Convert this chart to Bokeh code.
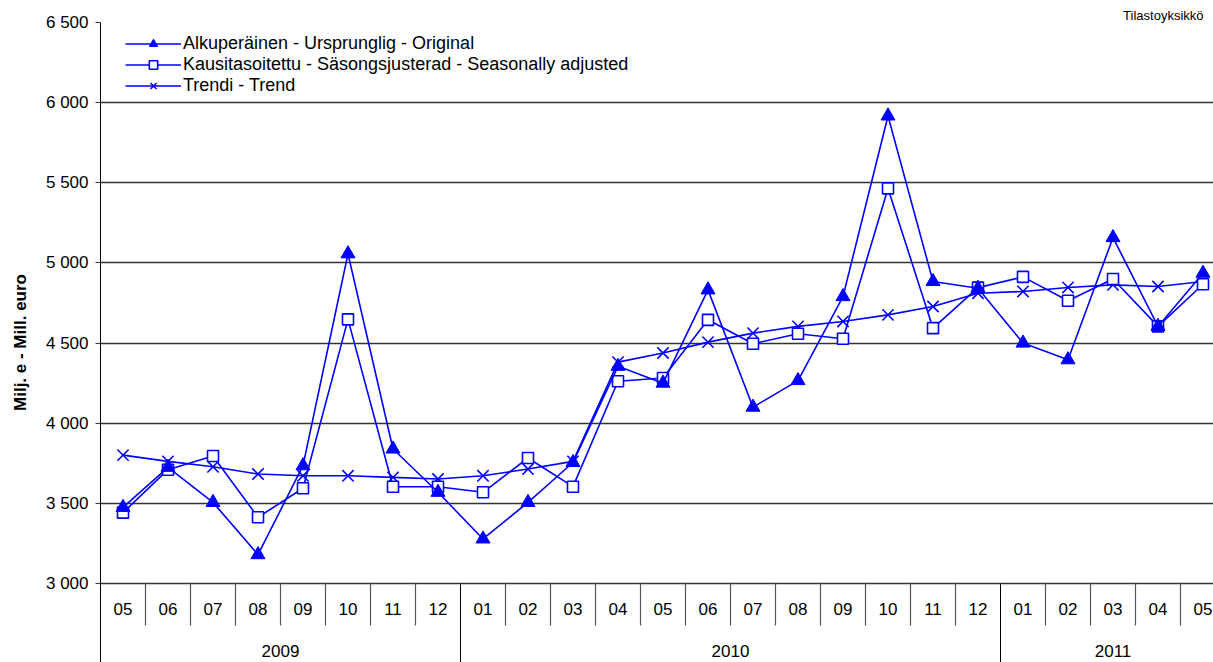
from bokeh.plotting import figure
from bokeh.models import Range1d, FixedTicker, Legend, LegendItem, ColumnDataSource
from bokeh.core.properties import value
from bokeh.embed import file_html
from bokeh.resources import INLINE

# ---- data ----
months = ["05", "06", "07", "08", "09", "10", "11", "12",
          "01", "02", "03", "04", "05", "06", "07", "08", "09", "10", "11", "12",
          "01", "02", "03", "04", "05"]
years = ["2009", "2010", "2011"]
year_month_counts = [8, 12, 5]

original = [3475, 3725, 3506, 3180, 3735, 5057, 3839, 3569,
            3278, 3506, 3755, 4355, 4250, 4832, 4100, 4266, 4790, 5917, 4884, 4842,
            4500, 4396, 5158, 4604, 4936]
seas_adj = [3442, 3710, 3795, 3413, 3594, 4648, 3604, 3604,
            3569, 3783, 3604, 4262, 4282, 4645, 4496, 4558, 4527, 5465, 4593, 4846,
            4913, 4764, 4900, 4604, 4867]
trend = [3801, 3762, 3728, 3683, 3672, 3672, 3662, 3652,
         3672, 3714, 3762, 4381, 4438, 4506, 4562, 4604, 4635, 4676, 4728, 4811,
         4822, 4847, 4863, 4853, 4884]

y_ticks = [3000, 3500, 4000, 4500, 5000, 5500, 6000, 6500]
y_tick_labels = ["3 000", "3 500", "4 000", "4 500", "5 000", "5 500", "6 000", "6 500"]

legend_labels = ["Alkuperäinen - Ursprunglig - Original",
                 "Kausitasoitettu - Säsongsjusterad - Seasonally adjusted",
                 "Trendi - Trend"]
y_title = "Milj. e - Mill. euro"
corner_text = "Tilastoyksikkö"

# ---- layout constants ----
W, H = 1213, 662
LEFT, TOP = 100, 22
cat_px = 45.0
frame_w = W - LEFT
frame_h = H - TOP
y_top = 6500
px_per_unit = (583 - 22) / 3500.0
y_bottom = y_top - frame_h / px_per_unit

def y_at(page_y):
    return 3000 - (page_y - 583) / px_per_unit

BLUE = "#0000FF"
FONT = "Liberation Sans"

p = figure(width=W, height=H, output_backend="svg", toolbar_location=None,
           x_range=Range1d(0, frame_w / cat_px), y_range=Range1d(y_bottom, y_top),
           min_border_left=LEFT, min_border_top=TOP, min_border_right=0, min_border_bottom=0,
           x_axis_type=None)
p.outline_line_color = None
p.background_fill_color = "white"
p.border_fill_color = "white"
p.xgrid.visible = False

# corner text as a right-aligned title
p.title.text = corner_text
p.title.align = "right"
p.title.text_font = FONT
p.title.text_font_size = "13px"
p.title.text_font_style = "normal"
p.title.text_color = "black"
p.title.offset = 10
p.title.standoff = 0

# y axis
yt = FixedTicker(ticks=y_ticks, minor_ticks=[])
p.yaxis.ticker = yt
p.yaxis.major_label_overrides = {t: l for t, l in zip(y_ticks, y_tick_labels)}
p.yaxis.major_label_text_font = FONT
p.yaxis.major_label_text_font_size = "17px"
p.yaxis.major_label_text_color = "black"
p.yaxis.major_tick_in = 0
p.yaxis.major_tick_out = 5
p.yaxis.major_tick_line_color = "#333333"
p.yaxis.minor_tick_line_color = None
p.yaxis.axis_line_color = "black"
p.yaxis.major_label_standoff = 7
p.yaxis.axis_label = y_title
p.yaxis.axis_label_text_font = FONT
p.yaxis.axis_label_text_font_style = "bold"
p.yaxis.axis_label_text_font_size = "17px"
p.yaxis.axis_label_text_color = "black"
p.yaxis.axis_label_standoff = 13
p.ygrid.ticker = yt
p.ygrid.grid_line_color = "#333333"
p.ygrid.grid_line_width = 1.3

# category separators & labels (below the 3000 line)
n = len(months)
bounds = list(range(1, n + 1))
year_bounds = []
acc = 0
for c in year_month_counts[:-1]:
    acc += c
    year_bounds.append(acc)
month_bounds = [b for b in bounds if b not in year_bounds]
p.segment(x0=month_bounds, x1=month_bounds, y0=[3000] * len(month_bounds),
          y1=[y_at(625)] * len(month_bounds), line_color="#555555", line_width=1.2)
p.segment(x0=year_bounds, x1=year_bounds, y0=[3000] * len(year_bounds),
          y1=[y_bottom] * len(year_bounds), line_color="black", line_width=1)

xc = [i + 0.5 for i in range(n)]
p.text(x=xc, y=[y_at(608)] * n, text=months, text_align="center", text_baseline="middle",
       text_font=value(FONT), text_font_size="17px", text_color="black")

ymid = []
acc = 0
for c in year_month_counts:
    ymid.append(acc + c / 2.0)
    acc += c
p.text(x=ymid, y=[y_at(650)] * len(years), text=years, text_align="center",
       text_baseline="middle", text_font=value(FONT), text_font_size="17px", text_color="black")

# series
src = ColumnDataSource(dict(x=xc, o=original, s=seas_adj, t=trend))
l3 = p.line("x", "t", source=src, line_color=BLUE, line_width=1.6)
m3 = p.scatter("x", "t", source=src, marker="x", size=16, line_color=BLUE, line_width=1.6)
l2 = p.line("x", "s", source=src, line_color=BLUE, line_width=1.6)
m2 = p.scatter("x", "s", source=src, marker="square", size=11, line_color=BLUE,
               fill_color="white", line_width=1.6)
l1 = p.line("x", "o", source=src, line_color=BLUE, line_width=1.6)
m1 = p.scatter("x", "o", source=src, marker="triangle", size=14, line_color=BLUE,
               fill_color=BLUE)

legend = Legend(items=[LegendItem(label=legend_labels[0], renderers=[l1, m1]),
                       LegendItem(label=legend_labels[1], renderers=[l2, m2]),
                       LegendItem(label=legend_labels[2], renderers=[l3, m3])],
                location=(25, frame_h - 11 - 63), orientation="vertical")
legend.border_line_color = None
legend.background_fill_alpha = 0
legend.margin = 0
legend.padding = 0
legend.spacing = 0
legend.glyph_width = 56
legend.glyph_height = 21
legend.label_height = 21
legend.label_standoff = 2
legend.label_text_font = FONT
legend.label_text_font_size = "18px"
legend.label_text_color = "black"
p.add_layout(legend, "center")

open("out.html", "w").write(file_html(p, INLINE))
